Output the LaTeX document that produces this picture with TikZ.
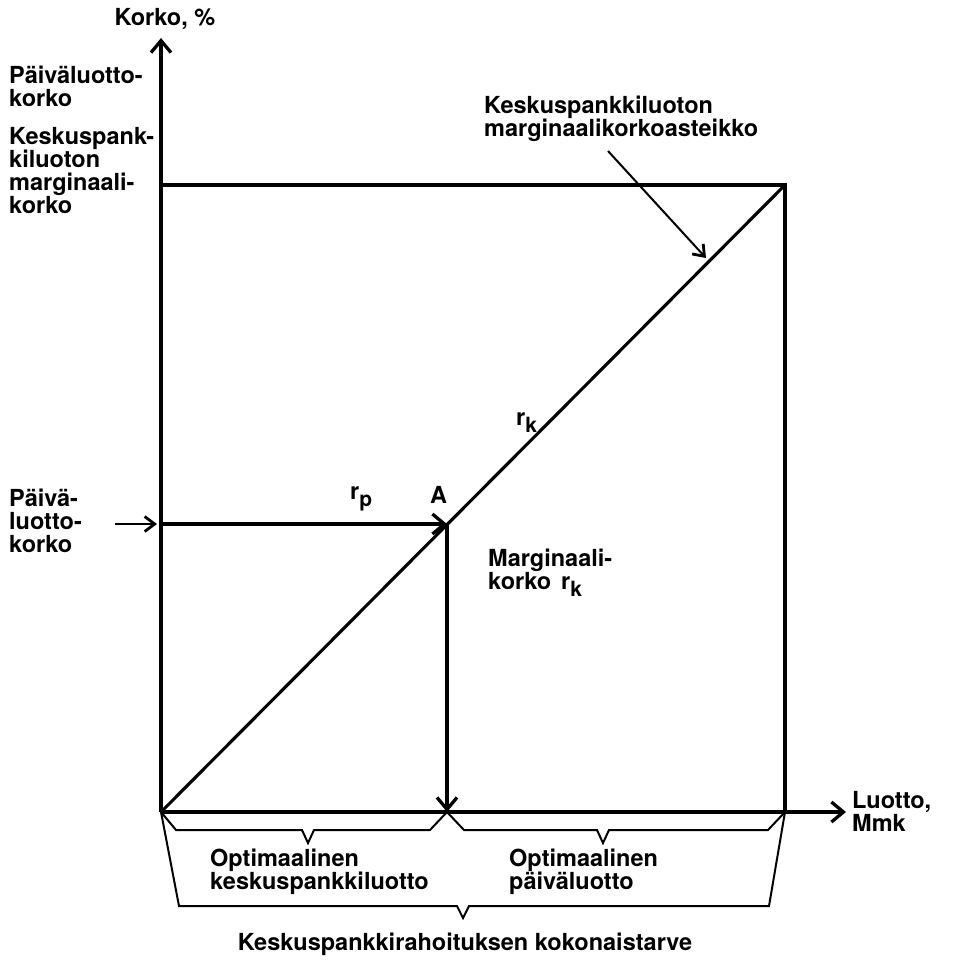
\documentclass[tikz,border=0pt]{standalone}
\usepackage{fontspec}
\setmainfont{TeX Gyre Heros}
\usetikzlibrary{arrows.meta}
\newcommand{\subl}[1]{\raisebox{-7pt}{\fontsize{21}{21}\selectfont #1}}
\begin{document}
\begin{tikzpicture}[x=1pt,y=-1pt,
  txt/.style={inner sep=0pt, font=\fontsize{23.5}{23}\selectfont\bfseries, align=left},
  axisline/.style={line width=3.3pt},
  frameline/.style={line width=3.1pt},
  brace/.style={line width=2pt, line join=miter},
  bigarrow/.style={-{Straight Barb[length=12pt,width=20pt,line width=3.3pt]}},
  thinarrow/.style={line width=2pt,-{Straight Barb[length=10pt,width=15pt,line width=2.8pt]}}]
\useasboundingbox (0,0) rectangle (967,962);
\coordinate (O) at (161,812);
\coordinate (ytop) at (161,38);
\coordinate (xend) at (846,812);
\coordinate (TL) at (161,185);
\coordinate (TR) at (785,185);
\coordinate (BR) at (785,812);
\coordinate (A) at (447,524);
\coordinate (PL) at (161,524);
\coordinate (Pin) at (115,524);
\coordinate (Pend) at (157,524);
\coordinate (Aax) at (447,812);
\coordinate (ptS) at (608,151);
\coordinate (ptE) at (706,258);
% axes
\draw[axisline,bigarrow] (O) -- (ytop);
\draw[axisline,bigarrow] (O) -- (xend);
% frame and scale
\draw[frameline] (TL) -- (TR) -- (BR);
\draw[frameline] (O) -- (TR);
\draw[frameline,bigarrow] (PL) -- (A);
\draw[frameline,bigarrow] (A) -- (Aax);
\draw[thinarrow] (Pin) -- (Pend);
\draw[thinarrow] (ptS) -- (ptE);
% braces
\draw[brace] (O) -- (176,830) -- (302,830) -- (308,843) -- (314,830) -- (430,830) -- (Aax);
\draw[brace] (Aax) -- (464,830) -- (597,830) -- (603,843) -- (609,830) -- (768,830) -- (BR);
\draw[brace] (O) -- (179,906) -- (457,906) -- (463,918) -- (469,906) -- (769,906) -- (BR);
% labels
\node[txt,anchor=center] (ylab) at (165,19) {Korko, \%};
\node[txt,anchor=north west] (l1) at (9,66) {Päiväluotto-\\korko};
\node[txt,anchor=north west] (l2) at (9,127) {Keskuspank-\\kiluoton\\marginaali-\\korko};
\node[txt,anchor=north west] (l3) at (9,489) {Päivä-\\luotto-\\korko};
\node[txt,anchor=north west] (xlab) at (852,791) {Luotto,\\Mmk};
\node[txt,anchor=north west] (b1) at (210,849) {Optimaalinen\\keskuspankkiluotto};
\node[txt,anchor=north west] (b2) at (509,849) {Optimaalinen\\päiväluotto};
\node[txt,anchor=center] (b3) at (465,944) {Keskuspankkirahoituksen kokonaistarve};
\node[txt,anchor=north west] (sc) at (484,96) {Keskuspankkiluoton\\marginaalikorkoasteikko};
\node[txt,anchor=north west] (mk) at (488,549) {Marginaali-\\korko\hspace{10pt}r\subl{k}};
\node[txt,anchor=north west] (rp) at (350,486) {r\subl{p}};
\node[txt,anchor=north west] (Alab) at (430,486) {A};
\node[txt,anchor=north west] (rk) at (516,412) {r\subl{k}};
\end{tikzpicture}
\end{document}
